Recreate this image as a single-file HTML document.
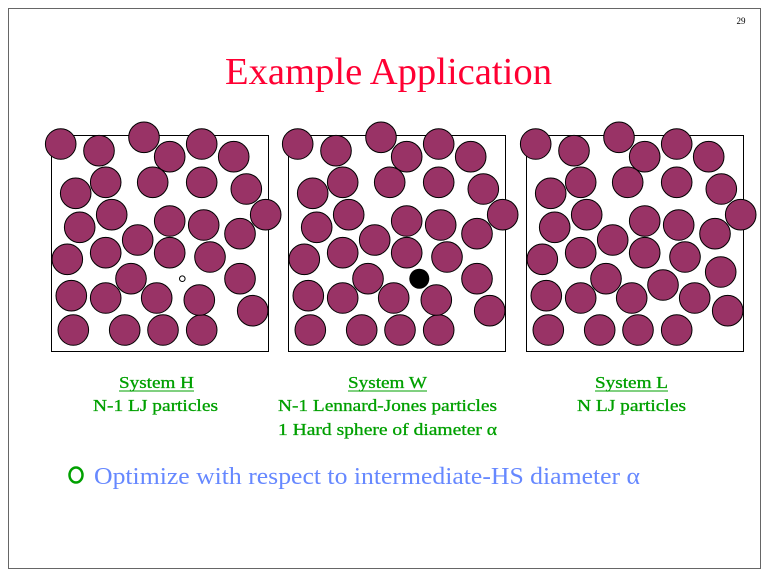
<!DOCTYPE html>
<html><head><meta charset="utf-8"><style>
body{margin:0;width:768px;height:576px;background:#fff;overflow:hidden}
svg{display:block}
</style></head><body>
<svg width="768" height="576" viewBox="0 0 768 576" xmlns="http://www.w3.org/2000/svg">
<rect x="8.5" y="8.5" width="752" height="560" fill="none" stroke="#666" stroke-width="1"/>
<text x="741" y="24" font-family="Liberation Serif, serif" font-size="9" text-anchor="middle">29</text>
<text x="225" y="84" font-family="Liberation Serif, serif" font-size="38" fill="#ff0033" textLength="327" lengthAdjust="spacingAndGlyphs">Example Application</text>
<defs>
<g id="c" fill="#993366" stroke="#000" stroke-width="1">
<circle cx="60.7" cy="144" r="15.3"/><circle cx="99" cy="150.7" r="15.3"/><circle cx="144" cy="137.3" r="15.3"/>
<circle cx="169.7" cy="156.7" r="15.3"/><circle cx="201.7" cy="144" r="15.3"/><circle cx="233.7" cy="156.7" r="15.3"/>
<circle cx="75.7" cy="193.3" r="15.3"/><circle cx="105.7" cy="182.3" r="15.3"/><circle cx="152.7" cy="182.3" r="15.3"/>
<circle cx="201.7" cy="182.3" r="15.3"/><circle cx="246.3" cy="189" r="15.3"/><circle cx="265.7" cy="214.7" r="15.3"/>
<circle cx="111.7" cy="214.7" r="15.3"/><circle cx="79.7" cy="227.3" r="15.3"/><circle cx="169.7" cy="221" r="15.3"/>
<circle cx="203.7" cy="225" r="15.3"/><circle cx="240" cy="233.7" r="15.3"/><circle cx="137.7" cy="240" r="15.3"/>
<circle cx="67.3" cy="259.3" r="15.3"/><circle cx="105.7" cy="252.7" r="15.3"/><circle cx="169.7" cy="252.7" r="15.3"/>
<circle cx="210" cy="257" r="15.3"/><circle cx="131" cy="278.7" r="15.3"/>
<circle cx="71.3" cy="295.7" r="15.3"/><circle cx="105.7" cy="298" r="15.3"/><circle cx="156.7" cy="298" r="15.3"/>
<circle cx="252.7" cy="310.7" r="15.3"/>
<circle cx="73.3" cy="330" r="15.3"/><circle cx="124.7" cy="330" r="15.3"/><circle cx="163" cy="330" r="15.3"/><circle cx="201.7" cy="330" r="15.3"/>
</g>
</defs>
<rect x="51.5" y="135.5" width="217" height="216" fill="none" stroke="#000"/>
<use href="#c"/>
<g fill="#993366" stroke="#000"><circle cx="240" cy="278.7" r="15.3"/><circle cx="199.3" cy="300" r="15.3"/></g>
<circle cx="182.3" cy="278.7" r="2.8" fill="#fff" stroke="#000"/>
<rect x="288.5" y="135.5" width="217" height="216" fill="none" stroke="#000"/>
<use href="#c" transform="translate(237,0)"/>
<g fill="#993366" stroke="#000"><circle cx="477" cy="278.7" r="15.3"/><circle cx="436.3" cy="300" r="15.3"/></g>
<circle cx="419.3" cy="278.7" r="10" fill="#000"/>
<rect x="526.5" y="135.5" width="217" height="216" fill="none" stroke="#000"/>
<use href="#c" transform="translate(475,0)"/>
<g fill="#993366" stroke="#000"><circle cx="720.7" cy="272" r="15.3"/><circle cx="694.7" cy="298" r="15.3"/><circle cx="663" cy="285" r="15.3"/></g>
<g font-family="Liberation Serif, serif" font-size="17" fill="#00a000" stroke="#00a000" stroke-width="0.3" lengthAdjust="spacingAndGlyphs">
<text x="119" y="388" textLength="75" lengthAdjust="spacingAndGlyphs">System H</text>
<line x1="119" y1="391" x2="194" y2="391" stroke-width="1"/>
<text x="93" y="411" textLength="125" lengthAdjust="spacingAndGlyphs">N-1 LJ particles</text>
<text x="348" y="388" textLength="79" lengthAdjust="spacingAndGlyphs">System W</text>
<line x1="348" y1="391" x2="427" y2="391" stroke-width="1"/>
<text x="278" y="411" textLength="219" lengthAdjust="spacingAndGlyphs">N-1 Lennard-Jones particles</text>
<text x="278" y="435" textLength="219" lengthAdjust="spacingAndGlyphs">1 Hard sphere of diameter α</text>
<text x="595" y="388" textLength="73" lengthAdjust="spacingAndGlyphs">System L</text>
<line x1="595" y1="391" x2="668" y2="391" stroke-width="1"/>
<text x="577" y="411" textLength="109" lengthAdjust="spacingAndGlyphs">N LJ particles</text>
</g>
<ellipse cx="76" cy="475" rx="6.5" ry="7.5" fill="none" stroke="#00a000" stroke-width="2.5"/>
<text x="94" y="484" font-family="Liberation Serif, serif" font-size="24" fill="#6688ff" textLength="546" lengthAdjust="spacingAndGlyphs">Optimize with respect to intermediate-HS diameter α</text>
</svg>
</body></html>
